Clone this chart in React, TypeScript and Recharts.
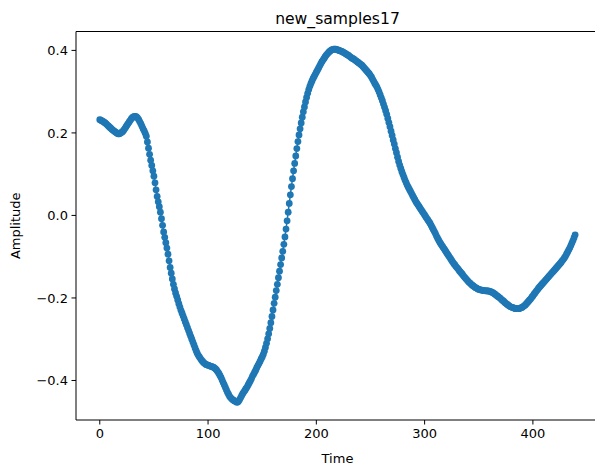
import React from 'react';
import { LineChart, Line, XAxis, YAxis, ReferenceLine } from 'recharts';

const TITLE = 'new_samples17';
const X_LABEL = 'Time';
const Y_LABEL = 'Amplitude';
const X_TICKS = [0, 100, 200, 300, 400];
const Y_TICKS = [-0.4, -0.2, 0, 0.2, 0.4];
const X_DOMAIN: [number, number] = [-21.95, 460.95];
const Y_DOMAIN: [number, number] = [-0.4958, 0.4458];

const AMPLITUDE = [
  0.232, 0.231, 0.229, 0.228, 0.226, 0.224, 0.222, 0.219, 0.217, 0.214,
  0.212, 0.209, 0.207, 0.205, 0.203, 0.201, 0.199, 0.198, 0.198, 0.199,
  0.201, 0.203, 0.206, 0.21, 0.214, 0.218, 0.222, 0.226, 0.23, 0.234,
  0.237, 0.239, 0.24, 0.24, 0.239, 0.236, 0.232, 0.227, 0.222, 0.216,
  0.21, 0.205, 0.199, 0.192, 0.178, 0.163, 0.148, 0.134, 0.121, 0.108,
  0.095, 0.079, 0.062, 0.046, 0.033, 0.021, 0.008, -0.008, -0.024, -0.04,
  -0.053, -0.066, -0.079, -0.094, -0.11, -0.126, -0.14, -0.154, -0.167, -0.178,
  -0.188, -0.196, -0.205, -0.214, -0.222, -0.23, -0.237, -0.244, -0.251, -0.258,
  -0.265, -0.272, -0.279, -0.286, -0.293, -0.3, -0.307, -0.314, -0.321, -0.328,
  -0.334, -0.339, -0.343, -0.347, -0.351, -0.354, -0.357, -0.359, -0.361, -0.362,
  -0.363, -0.364, -0.365, -0.366, -0.367, -0.368, -0.37, -0.372, -0.375, -0.379,
  -0.383, -0.388, -0.393, -0.399, -0.405, -0.411, -0.417, -0.423, -0.429, -0.434,
  -0.439, -0.442, -0.445, -0.447, -0.449, -0.45, -0.452, -0.453, -0.451, -0.447,
  -0.442, -0.437, -0.432, -0.428, -0.424, -0.42, -0.416, -0.411, -0.406, -0.401,
  -0.396, -0.39, -0.385, -0.38, -0.375, -0.369, -0.364, -0.359, -0.354, -0.348,
  -0.343, -0.337, -0.329, -0.32, -0.31, -0.299, -0.287, -0.274, -0.26, -0.245,
  -0.229, -0.213, -0.198, -0.182, -0.167, -0.151, -0.135, -0.119, -0.103, -0.087,
  -0.07, -0.052, -0.033, -0.013, 0.008, 0.029, 0.05, 0.07, 0.089, 0.108,
  0.126, 0.144, 0.162, 0.179, 0.195, 0.21, 0.224, 0.238, 0.251, 0.263,
  0.275, 0.286, 0.296, 0.305, 0.313, 0.32, 0.326, 0.332, 0.337, 0.342,
  0.347, 0.352, 0.357, 0.362, 0.367, 0.372, 0.376, 0.38, 0.384, 0.388,
  0.391, 0.394, 0.397, 0.399, 0.401, 0.402, 0.403, 0.403, 0.403, 0.402,
  0.401, 0.4, 0.399, 0.398, 0.397, 0.395, 0.394, 0.392, 0.39, 0.389,
  0.387, 0.385, 0.383, 0.381, 0.38, 0.378, 0.376, 0.374, 0.372, 0.37,
  0.368, 0.366, 0.364, 0.361, 0.358, 0.355, 0.352, 0.349, 0.346, 0.343,
  0.339, 0.335, 0.33, 0.325, 0.32, 0.316, 0.311, 0.305, 0.299, 0.292,
  0.285, 0.278, 0.27, 0.262, 0.254, 0.245, 0.235, 0.225, 0.215, 0.204,
  0.194, 0.183, 0.173, 0.162, 0.152, 0.141, 0.131, 0.122, 0.114, 0.106,
  0.099, 0.092, 0.085, 0.079, 0.073, 0.068, 0.063, 0.058, 0.053, 0.048,
  0.043, 0.038, 0.033, 0.029, 0.025, 0.021, 0.017, 0.013, 0.009, 0.005,
  0.001, -0.003, -0.007, -0.011, -0.015, -0.019, -0.024, -0.029, -0.034, -0.039,
  -0.044, -0.05, -0.055, -0.06, -0.065, -0.069, -0.073, -0.077, -0.081, -0.085,
  -0.089, -0.093, -0.097, -0.101, -0.105, -0.109, -0.113, -0.117, -0.12, -0.124,
  -0.127, -0.13, -0.134, -0.137, -0.14, -0.143, -0.147, -0.15, -0.153, -0.156,
  -0.159, -0.162, -0.164, -0.167, -0.169, -0.171, -0.173, -0.175, -0.176, -0.178,
  -0.179, -0.18, -0.181, -0.181, -0.182, -0.182, -0.182, -0.183, -0.183, -0.183,
  -0.184, -0.185, -0.186, -0.187, -0.189, -0.191, -0.193, -0.195, -0.197, -0.199,
  -0.201, -0.204, -0.206, -0.208, -0.211, -0.213, -0.215, -0.217, -0.219, -0.221,
  -0.222, -0.223, -0.224, -0.225, -0.226, -0.226, -0.226, -0.226, -0.225, -0.224,
  -0.223, -0.221, -0.219, -0.217, -0.214, -0.211, -0.208, -0.205, -0.202, -0.198,
  -0.195, -0.191, -0.188, -0.184, -0.181, -0.177, -0.174, -0.171, -0.168, -0.165,
  -0.162, -0.159, -0.156, -0.153, -0.15, -0.147, -0.144, -0.141, -0.138, -0.135,
  -0.132, -0.129, -0.126, -0.123, -0.12, -0.117, -0.114, -0.11, -0.107, -0.103,
  -0.099, -0.094, -0.089, -0.084, -0.079, -0.073, -0.067, -0.061, -0.054, -0.047,
];

const data = AMPLITUDE.map((v, i) => ({ t: i, v }));

const FONT = "'DejaVu Sans', sans-serif";
const BLUE = '#1f77b4';

const fmtY = (v: number) => {
  const s = Math.abs(v).toFixed(1);
  return v < -1e-9 ? '\u2212' + s : s;
};

const CHART_W = 620;
const CHART_H = 466;

export default function App() {
  return (
    <div
      style={{
        position: 'fixed',
        left: 0,
        top: 0,
        width: 595,
        height: 466,
        overflow: 'hidden',
        background: '#fff',
      }}
    >
      <LineChart
        width={CHART_W}
        height={CHART_H}
        data={data}
        margin={{ top: 31.5, right: 21.1, bottom: 16, left: 16 }}
      >
        <XAxis
          dataKey="t"
          type="number"
          domain={X_DOMAIN}
          ticks={X_TICKS}
          allowDataOverflow
          height={30}
          tickSize={4.5}
          tickMargin={4}
          axisLine={{ stroke: '#000', strokeWidth: 1 }}
          tickLine={{ stroke: '#000', strokeWidth: 1 }}
          tick={{ fontSize: 13, fill: '#000', fontFamily: FONT }}
        />
        <YAxis
          type="number"
          domain={Y_DOMAIN}
          ticks={Y_TICKS}
          allowDataOverflow
          width={60}
          tickSize={4.5}
          tickMargin={3.5}
          tickFormatter={fmtY}
          axisLine={{ stroke: '#000', strokeWidth: 1 }}
          tickLine={{ stroke: '#000', strokeWidth: 1 }}
          tick={{ fontSize: 13, fill: '#000', fontFamily: FONT }}
        />
        <ReferenceLine y={Y_DOMAIN[1]} stroke="#000" strokeWidth={1} ifOverflow="visible" />
        <Line
          type="linear"
          dataKey="v"
          stroke={BLUE}
          strokeWidth={1.5}
          dot={{ r: 3.4, fill: BLUE, stroke: BLUE, strokeWidth: 0 }}
          activeDot={false}
          isAnimationActive={false}
        />
      </LineChart>
      <svg
        width={595}
        height={466}
        style={{ position: 'absolute', left: 0, top: 0, pointerEvents: 'none' }}
      >
        <text x={337.5} y={23.5} textAnchor="middle" fontSize={15.6} fontFamily={FONT} fill="#000">
          {TITLE}
        </text>
        <text x={337.5} y={462.5} textAnchor="middle" fontSize={13} fontFamily={FONT} fill="#000">
          {X_LABEL}
        </text>
        <text
          x={0}
          y={0}
          transform="translate(19.5,225.75) rotate(-90)"
          textAnchor="middle"
          fontSize={13}
          fontFamily={FONT}
          fill="#000"
        >
          {Y_LABEL}
        </text>
      </svg>
    </div>
  );
}
